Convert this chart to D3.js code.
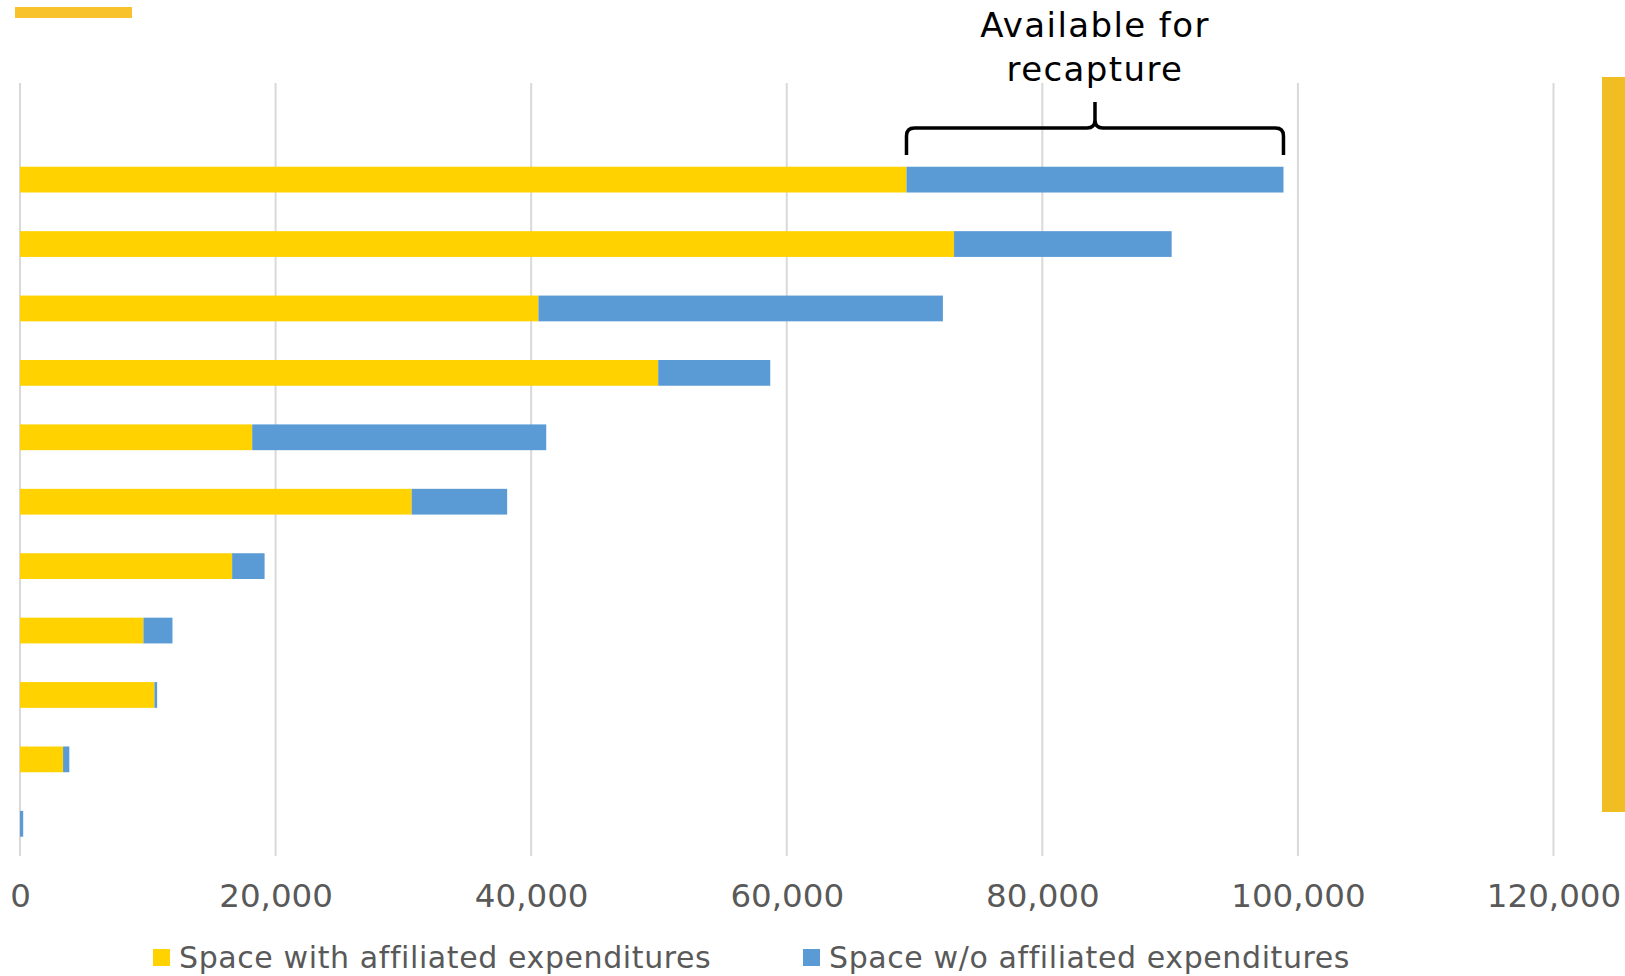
<!DOCTYPE html>
<html>
<head>
<meta charset="utf-8">
<script src="https://cdn.jsdelivr.net/npm/d3@7"></script>
<style>
  body { margin: 0; background: #fff; }
  svg { display: block; }
</style>
</head>
<body>
<div id="chart"></div>
<script>
var categories = ["", "1", "2", "3", "4", "5", "6", "7", "8", "9", "10", "11"];
var withAffiliated = [0, 69370, 73090, 40570, 49940, 18170, 30650, 16600, 9660, 10520, 3370, 0];
var withoutAffiliated = [0, 29500, 17030, 31650, 8770, 23010, 7470, 2540, 2270, 210, 490, 250];
var xTicks = [0, 20000, 40000, 60000, 80000, 100000, 120000];
var seriesNames = ["Space with affiliated expenditures", "Space w/o affiliated expenditures"];
var annotation = ["Available for", "recapture"];

var W = 1625, H = 976;
var textFont = "'DejaVu Sans', sans-serif";

var svg = d3.select("#chart").append("svg")
  .attr("width", W)
  .attr("height", H);

// brand strips
svg.append("rect")
  .attr("x", 15).attr("y", 7)
  .attr("width", 117).attr("height", 11)
  .attr("fill", "#F8C22A");
svg.append("rect")
  .attr("x", 1602).attr("y", 77)
  .attr("width", 23).attr("height", 735)
  .attr("fill", "#F0BE22");

var x = d3.scaleLinear()
  .domain([0, 120000])
  .range([20, 1553.5]);

var y = d3.scaleBand()
  .domain(categories)
  .range([83, 856])
  .paddingInner(0.6)
  .paddingOuter(0.3);

var color = d3.scaleOrdinal()
  .domain(seriesNames)
  .range(["#FFD200", "#5B9BD5"]);

// gridlines
svg.append("g")
  .selectAll("line")
  .data(xTicks)
  .enter()
  .append("line")
  .attr("x1", function(d){ return x(d); })
  .attr("x2", function(d){ return x(d); })
  .attr("y1", 83)
  .attr("y2", 856)
  .attr("stroke", "#D9D9D9")
  .attr("stroke-width", 2);

// tick labels through an axis
var axis = svg.append("g")
  .attr("transform", "translate(0,856)")
  .call(d3.axisBottom(x).tickValues(xTicks).tickFormat(d3.format(",")).tickSize(0).tickPadding(28));
axis.select(".domain").remove();
axis.selectAll("text")
  .attr("font-family", textFont)
  .attr("font-size", 32.5)
  .attr("fill", "#595959");

var rows = categories.map(function(c, i){
  return {cat: c, a: withAffiliated[i], b: withoutAffiliated[i]};
});

svg.append("g")
  .selectAll(".rectA")
  .data(rows)
  .enter()
  .append("rect")
  .attr("class", "rectA")
  .attr("x", x(0))
  .attr("y", function(d){ return y(d.cat); })
  .attr("width", function(d){ return x(d.a) - x(0); })
  .attr("height", y.bandwidth())
  .attr("fill", color(seriesNames[0]));

svg.append("g")
  .selectAll(".rectB")
  .data(rows)
  .enter()
  .append("rect")
  .attr("class", "rectB")
  .attr("x", function(d){ return x(d.a); })
  .attr("y", function(d){ return y(d.cat); })
  .attr("width", function(d){ return x(d.a + d.b) - x(d.a); })
  .attr("height", y.bandwidth())
  .attr("fill", color(seriesNames[1]));

// brace over the first bar's unaffiliated part
var firstRow = rows[1];
var bx0 = x(firstRow.a), bx1 = x(firstRow.a + firstRow.b), bc = (bx0 + bx1) / 2;
var bh = 128, bEnd = 155, bTip = 102, r = 8;
var brace = "M" + bx0 + "," + bEnd + " V" + (bh + r) +
  " Q" + bx0 + "," + bh + " " + (bx0 + r) + "," + bh +
  " H" + (bc - r) +
  " Q" + bc + "," + bh + " " + bc + "," + (bh - r) +
  " V" + bTip +
  " M" + bc + "," + (bh - r) +
  " Q" + bc + "," + bh + " " + (bc + r) + "," + bh +
  " H" + (bx1 - r) +
  " Q" + bx1 + "," + bh + " " + bx1 + "," + (bh + r) +
  " V" + bEnd;
svg.append("path")
  .attr("d", brace)
  .attr("fill", "none")
  .attr("stroke", "#000")
  .attr("stroke-width", 3.5);

svg.append("g")
  .selectAll("text")
  .data(annotation)
  .enter()
  .append("text")
  .attr("x", bc)
  .attr("y", function(d, i){ return 37 + i * 44; })
  .attr("text-anchor", "middle")
  .attr("font-family", textFont)
  .attr("font-size", 34)
  .attr("letter-spacing", 1.4)
  .attr("fill", "#000")
  .text(function(d){ return d; });

// legend
var legendX = [153, 803];
var legend = svg.append("g")
  .selectAll("g")
  .data(seriesNames)
  .enter()
  .append("g")
  .attr("transform", function(d, i){ return "translate(" + legendX[i] + ",949)"; });
legend.append("rect")
  .attr("width", 17)
  .attr("height", 17)
  .attr("fill", function(d){ return color(d); });
legend.append("text")
  .attr("x", 26)
  .attr("y", 8)
  .attr("dy", "0.35em")
  .attr("font-family", textFont)
  .attr("font-size", 30)
  .attr("letter-spacing", 0.6)
  .attr("fill", "#595959")
  .text(function(d){ return d; });
</script>
</body>
</html>
